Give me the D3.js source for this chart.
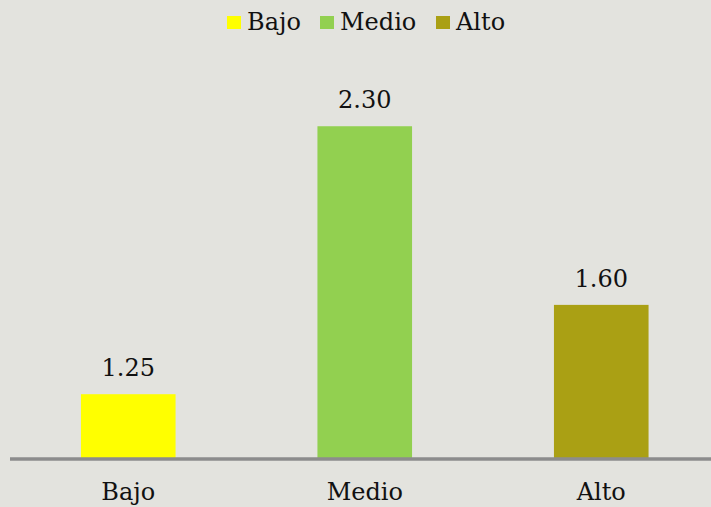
<!DOCTYPE html>
<html><head><meta charset="utf-8">
<script src="https://cdn.jsdelivr.net/npm/d3@7"></script>
<style>html,body{margin:0;padding:0;background:#e3e3de;}svg{display:block;}
svg text{font-family:"DejaVu Serif","Liberation Serif",serif;}</style>
</head><body>
<script>
const categories = ["Bajo", "Medio", "Alto"];
const values = [1.25, 2.30, 1.60];
const colors = ["#ffff00", "#92d050", "#aaa014"];
const valueLabels = ["1.25", "2.30", "1.60"];

const W = 711, H = 507;
const svg = d3.select("body").append("svg").attr("width", W).attr("height", H);
svg.append("rect").attr("width", W).attr("height", H).attr("fill", "#e3e3de");

const x = d3.scaleBand().domain(categories).range([10, 719.5]).paddingInner(0.6).paddingOuter(0.3);
const y = d3.scaleLinear().domain([1, 2.5]).range([458, 75.2]);

svg.selectAll("rect.bar").data(values).join("rect").attr("class", "bar")
  .attr("x", (d, i) => x(categories[i]))
  .attr("width", x.bandwidth())
  .attr("y", d => y(d))
  .attr("height", d => y(1) - y(d))
  .attr("fill", (d, i) => colors[i]);

svg.selectAll("text.val").data(values).join("text").attr("class", "val")
  .attr("x", (d, i) => x(categories[i]) + x.bandwidth() / 2)
  .attr("y", d => y(d) - 18)
  .attr("text-anchor", "middle")
  .style("font-size", "24px").attr("fill", "#111")
  .text((d, i) => valueLabels[i]);

const axis = svg.append("g").attr("transform", "translate(0,459)")
  .call(d3.axisBottom(x).tickSize(0).tickPadding(0));
axis.attr("font-family", null).attr("font-size", null);
axis.select(".domain").remove();
axis.append("line").attr("x1", 10).attr("x2", W).attr("stroke", "#8c8c8c").attr("stroke-width", 3.5);
axis.selectAll(".tick text").style("font-size", "24px").attr("fill", "#111")
  .attr("dy", null).attr("y", 41);

const legendX = [227, 320, 436];
const lg = svg.append("g");
categories.forEach((c, i) => {
  lg.append("rect").attr("x", legendX[i]).attr("y", 16).attr("width", 14).attr("height", 13).attr("fill", colors[i]);
  lg.append("text").attr("x", legendX[i] + 20).attr("y", 30)
    .style("font-size", "24px").attr("fill", "#111").text(c);
});
</script>
</body></html>
